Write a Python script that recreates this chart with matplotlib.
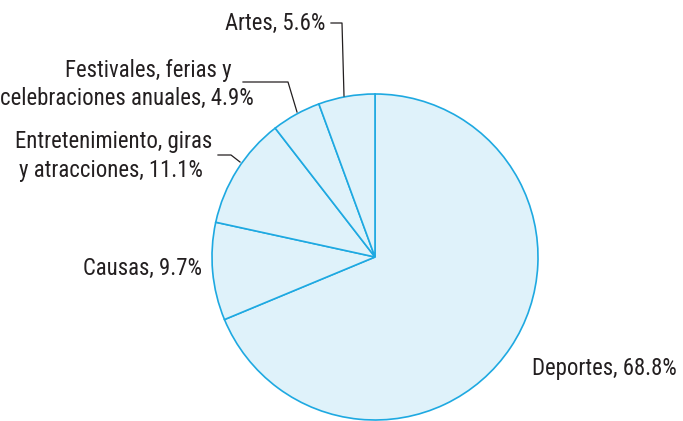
import matplotlib
matplotlib.use("Agg")
import matplotlib.pyplot as plt
from matplotlib import font_manager as fm

labels = ["Deportes", "Causas", "Entretenimiento, giras y atracciones",
          "Festivales, ferias y celebraciones anuales", "Artes"]
shares = [68.8, 9.7, 11.1, 4.9, 5.6]

W, H = 683, 421
EDGE = "#1ea9e1"
FILL = "#dff2fa"
INK = "#231f20"


def pick_font():
    """Prefer a narrow / condensed sans face if one is installed."""
    wanted = ["Liberation Sans Narrow", "Roboto Condensed", "DejaVu Sans Condensed",
              "Open Sans Condensed", "Noto Sans Condensed", "DejaVu Sans"]
    found = {}
    for f in fm.fontManager.ttflist:
        narrow = ("Narrow" in f.name or "Condensed" in f.name
                  or f.stretch in ("condensed", "semi-condensed", "extra-condensed")
                  or (isinstance(f.stretch, int) and f.stretch < 100))
        regular = f.weight in ("normal", "regular", 400, "book") and f.style == "normal"
        if narrow and regular:
            found.setdefault(f.name, f.fname)
    for name in wanted:
        if name in found:
            return fm.FontProperties(fname=found[name]), True
    if found:
        return fm.FontProperties(fname=next(iter(found.values()))), True
    return fm.FontProperties(family="Roboto"), False


fp, narrow = pick_font()

fig = plt.figure(figsize=(W / 100, H / 100), dpi=100)
ax = fig.add_axes([0, 0, 1, 1])


def py(y):
    # pixel row (top-down) to data y
    return H - y


cx, cy, r = 375, 257, 163
ax.pie(shares, center=(cx, py(cy)), radius=r, startangle=90, counterclock=False,
       colors=[FILL] * len(shares),
       wedgeprops=dict(edgecolor=EDGE, linewidth=1.2), frame=True)
ax.set_xlim(0, W)
ax.set_ylim(0, H)
ax.axis("off")

# size the type so the right-hand label spans about 145 px
renderer = fig.canvas.get_renderer()
probe = ax.text(0, 0, f"Deportes, {shares[0]}%", fontproperties=fp, fontsize=15.5)
wpx = probe.get_window_extent(renderer).width
probe.remove()
fs = min(17.5, 15.5 * 145 / wpx)


def label(x, y, s, ha="right"):
    ax.text(x, py(y), s, ha=ha, va="baseline", fontsize=fs, color=INK,
            fontproperties=fp)


label(325, 30, f"Artes, {shares[4]}%")
label(232, 77, "Festivales, ferias y")
label(254, 105, f"celebraciones anuales, {shares[3]}%")
label(212, 148, "Entretenimiento, giras")
label(203, 177, f"y atracciones, {shares[2]}%")
label(202, 275, f"Causas, {shares[1]}%")
label(532, 375, f"Deportes, {shares[0]}%", ha="left")

lk = dict(color=INK, linewidth=0.9)
ax.plot([331, 342, 344], [py(23), py(23), py(96)], **lk)
ax.plot([243, 288, 297], [py(82), py(82), py(112)], **lk)
ax.plot([218, 231, 240], [py(155), py(155), py(162)], **lk)

fig.savefig("out.png", dpi=100)
